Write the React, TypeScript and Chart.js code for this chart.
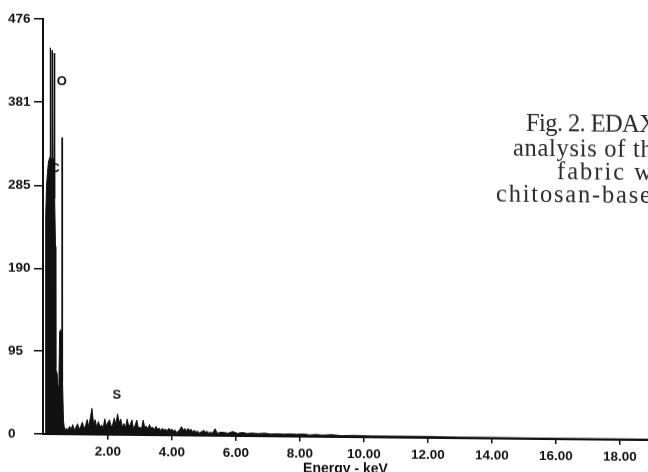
import { useEffect, useRef } from "react";
import { Chart, registerables } from "chart.js";
Chart.register(...registerables);

// Spectrum (energy in keV, counts)
const energies = [
  0.0, 0.045, 0.055, 0.08, 0.11, 0.14, 0.17, 0.19, 0.197, 0.205, 0.23, 0.248, 0.256, 0.265, 0.29, 0.31,
  0.322, 0.33, 0.34, 0.36, 0.37, 0.39, 0.41, 0.44, 0.47, 0.49, 0.52, 0.55, 0.56, 0.565, 0.572, 0.59, 0.61,
  0.65, 0.7, 0.75, 0.8, 0.85, 0.9, 0.95, 1.0, 1.05, 1.1, 1.15, 1.2, 1.25, 1.3, 1.35, 1.4, 1.45, 1.5,
  1.55, 1.6, 1.65, 1.7, 1.75, 1.8, 1.85, 1.9, 1.95, 2.0, 2.05, 2.1, 2.15, 2.2, 2.25, 2.3, 2.35, 2.4,
  2.45, 2.5, 2.55, 2.6, 2.65, 2.7, 2.75, 2.8, 2.85, 2.9, 2.95, 3.0, 3.05, 3.1, 3.15, 3.2, 3.25, 3.3,
  3.35, 3.4, 3.45, 3.5, 3.55, 3.6, 3.65, 3.7, 3.75, 3.8, 3.85, 3.9, 3.95, 4.0, 4.05, 4.1, 4.15, 4.2,
  4.25, 4.3, 4.35, 4.4, 4.45, 4.5, 4.55, 4.6, 4.65, 4.7, 4.75, 4.8, 4.85, 4.9, 4.95, 5.0, 5.05, 5.1,
  5.15, 5.2, 5.25, 5.3, 5.35, 5.4, 5.45, 5.5,
  5.6, 5.75, 5.9, 6.05, 6.2, 6.35, 6.5, 6.7, 6.9, 7.1, 7.3, 7.5, 7.7, 7.9,
  8.1, 8.3, 8.5, 8.7, 9.0, 9.3, 9.7, 10.2, 11, 12, 13, 14, 15, 16, 17, 18, 18.9,
];
const counts = [
  0, 0, 250, 285, 300, 312, 316, 318, 443, 318, 316, 318, 440, 318, 316, 318,
  437, 300, 270, 215, 75, 72, 70, 55, 68, 117, 120, 116, 118, 340, 110, 60, 15,
  4, 7, 5, 9, 6, 11, 5, 8, 12, 6, 9, 14, 7, 10, 17, 9, 19, 30,
  12, 17, 8, 15, 9, 11, 7, 18, 10, 14, 17, 9, 12, 19, 11, 24, 14, 18,
  9, 13, 8, 18, 10, 12, 17, 7, 11, 17, 8, 9, 7, 17, 9, 10, 7, 12,
  8, 9, 6, 10, 7, 8, 5, 8, 6, 7, 5, 8, 6, 7, 5, 6, 3, 5,
  7, 10, 6, 8, 5, 8, 6, 7, 4, 6, 4, 5, 3, 4, 5, 6, 4, 5,
  3, 4, 3, 5, 8, 4, 3, 4,
  4, 3, 5, 3, 4, 3, 3.5, 3, 3.5, 2.5, 3, 2.5, 3, 2.5,
  3, 2, 2.5, 2, 2.5, 1.5, 2, 1.5, 1.5, 1.5, 1.2, 1.2, 1, 1, 1, 1, 1,
];

const yTicks = [0, 95, 190, 285, 381, 476];
const xTicks = [2, 4, 6, 8, 10, 12, 14, 16, 18];

const peakLabels = ["O", "C", "S"];
const peakLabelEnergy = [0.56, 0.34, 2.28];
const peakLabelCount = [404, 305, 45];

const captionLines = ["Fig. 2. EDAX", "analysis of th", "fabric w", "chitosan-base"];
const captionX = [526, 513, 557, 496];
const captionY = [120, 145, 168, 191];
const captionSpacing = [-0.6, 0.7, 2.0, 1.8];

const tickFont = { family: "'Liberation Sans', Arial, sans-serif", size: 13.5, weight: "bold" as const };

export default function App() {
  const ref = useRef<HTMLCanvasElement>(null);
  useEffect(() => {
    if (!ref.current) return;
    const overlay = {
      id: "overlay",
      afterDatasetsDraw(chart: any) {
        const { ctx, scales } = chart;
        ctx.save();
        ctx.fillStyle = "#111";
        ctx.font = "bold 13px 'Liberation Sans', Arial, sans-serif";
        ctx.textAlign = "center";
        ctx.textBaseline = "middle";
        peakLabels.forEach((t, i) => {
          ctx.fillText(t, scales.x.getPixelForValue(peakLabelEnergy[i]), scales.y.getPixelForValue(peakLabelCount[i]));
        });
        ctx.fillStyle = "#2a2a2a";
        ctx.font = "24.5px 'Liberation Serif', 'DejaVu Serif', serif";
        ctx.textAlign = "left";
        captionLines.forEach((t, i) => {
          (ctx as any).letterSpacing = captionSpacing[i] + "px";
          ctx.fillText(t, captionX[i], captionY[i]);
        });
        (ctx as any).letterSpacing = "0px";
        ctx.restore();
      },
    };
    const chart = new Chart(ref.current, {
      type: "line",
      data: {
        datasets: [
          {
            data: energies.map((e, i) => ({ x: e, y: counts[i] })),
            borderColor: "#111",
            backgroundColor: "#111",
            borderWidth: 1,
            pointRadius: 0,
            fill: "origin",
            tension: 0,
          },
        ],
      },
      options: {
        animation: false,
        responsive: false,
        maintainAspectRatio: false,
        layout: { padding: { left: 8, top: 19, right: 0, bottom: 0 } },
        plugins: { legend: { display: false }, tooltip: { enabled: false } },
        scales: {
          x: {
            type: "linear",
            min: -0.03,
            max: 18.88,
            afterBuildTicks: (s: any) => {
              s.ticks = xTicks.map((v) => ({ value: v }));
            },
            afterFit: (s: any) => {
              s.height = 38;
            },
            grid: { drawOnChartArea: false, color: "#111", tickLength: 5, lineWidth: 1.5 },
            border: { display: true, color: "#111", width: 2 },
            ticks: {
              color: "#111",
              font: tickFont,
              padding: 4,
              maxRotation: 0,
              autoSkip: false,
              callback: (v: any) => Number(v).toFixed(2),
            },
            title: {
              display: true,
              text: "Energy - keV",
              color: "#111",
              font: { family: "'Liberation Sans', Arial, sans-serif", size: 14, weight: "bold" },
              padding: { top: 0, bottom: -3 },
            },
          },
          y: {
            min: 0,
            max: 476,
            afterBuildTicks: (s: any) => {
              s.ticks = yTicks.map((v) => ({ value: v }));
            },
            afterFit: (s: any) => {
              s.width = 35;
            },
            grid: { drawOnChartArea: false, color: "#111", tickLength: 9, lineWidth: 1.5 },
            border: { display: true, color: "#111", width: 2 },
            ticks: {
              color: "#111",
              font: tickFont,
              crossAlign: "far",
              autoSkip: false,
            },
          },
        },
      },
      plugins: [overlay],
    });
    return () => chart.destroy();
  }, []);
  return (
    <div style={{ position: "fixed", left: 0, top: 0, width: 648, height: 472, background: "#fff", overflow: "hidden" }}>
      <canvas
        ref={ref}
        width={648}
        height={472}
        style={{
          width: 648,
          height: 472,
          transformOrigin: "43px 434px",
          transform: "matrix(1, 0.01, 0, 1, 0, 0)",
        }}
      />
    </div>
  );
}
